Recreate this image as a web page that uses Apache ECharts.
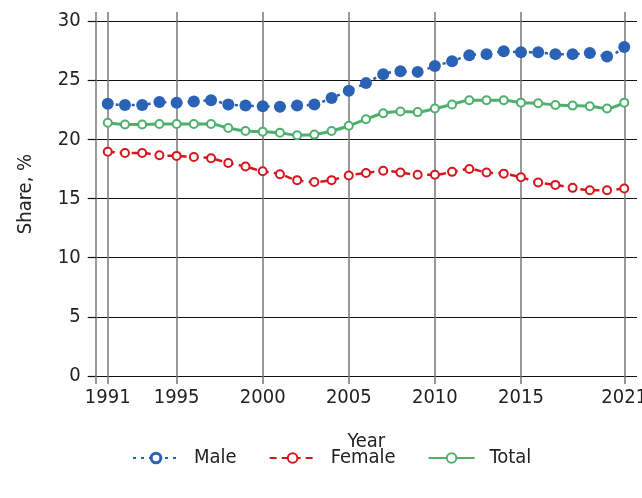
<!DOCTYPE html>
<html>
<head>
<meta charset="utf-8">
<script src="https://cdn.jsdelivr.net/npm/echarts@6/dist/echarts.min.js"></script>
<style>
  html, body { margin: 0; padding: 0; background: #fff; }
  #chart { width: 642px; height: 498px; }
</style>
</head>
<body>
<div id="chart"></div>
<script>
// Share by year, %
const years = [1991,1992,1993,1994,1995,1996,1997,1998,1999,2000,2001,2002,2003,2004,2005,2006,2007,2008,2009,2010,2011,2012,2013,2014,2015,2016,2017,2018,2019,2020,2021];
const male = [23.0,22.9,22.9,23.15,23.1,23.2,23.3,22.95,22.85,22.8,22.75,22.85,22.95,23.5,24.1,24.75,25.5,25.75,25.7,26.2,26.6,27.1,27.2,27.45,27.35,27.35,27.2,27.2,27.3,27.0,27.8];
const female = [18.95,18.85,18.85,18.65,18.6,18.5,18.4,18.0,17.7,17.3,17.05,16.55,16.4,16.55,16.95,17.15,17.35,17.2,17.0,17.0,17.25,17.5,17.2,17.1,16.8,16.35,16.15,15.9,15.7,15.7,15.85];
const total = [21.4,21.25,21.25,21.3,21.3,21.3,21.3,20.95,20.7,20.65,20.55,20.35,20.4,20.7,21.15,21.7,22.2,22.35,22.3,22.6,22.95,23.3,23.3,23.3,23.1,23.05,22.9,22.85,22.8,22.6,23.1];
const yearTicks = [1991, 1995, 2000, 2005, 2010, 2015, 2021];
const shareTicks = [0, 5, 10, 15, 20, 25, 30];

const X_MIN = 1990.3, X_MAX = 2021.74;
const FONT = '"DejaVu Sans Condensed", "Roboto", sans-serif';

const pairs = arr => years.map((y, i) => [y, arr[i]]);

const chart = echarts.init(document.getElementById('chart'), null, { renderer: 'canvas' });
chart.setOption({
  animation: false,
  textStyle: { fontFamily: FONT },
  grid: { left: 95.7, right: 5, top: 12, bottom: 122, containLabel: false, outerBoundsMode: 'none' },
  xAxis: {
    type: 'value',
    min: X_MIN,
    max: X_MAX,
    name: 'Year',
    nameLocation: 'middle',
    nameGap: 56,
    nameTextStyle: { fontSize: 20, color: '#222', fontFamily: FONT },
    axisLine: { show: false },
    axisTick: { show: true, length: 8, customValues: [X_MIN].concat(yearTicks), lineStyle: { color: '#777', width: 1.5 } },
    axisLabel: { customValues: yearTicks, fontSize: 20, color: '#222', margin: 12, fontFamily: FONT, formatter: v => String(v) },
    splitLine: { show: true, lineStyle: { color: '#777', width: 1.5 } }
  },
  yAxis: {
    type: 'value',
    min: 0,
    max: 30.76,
    name: 'Share, %',
    nameLocation: 'middle',
    nameGap: 60,
    nameRotate: 90,
    nameTextStyle: { fontSize: 20, color: '#222', fontFamily: FONT },
    axisLine: { show: false },
    axisTick: { show: true, length: 8, customValues: shareTicks, lineStyle: { color: '#111', width: 1.2 } },
    axisLabel: { customValues: shareTicks, fontSize: 20, color: '#222', margin: 15, fontFamily: FONT },
    splitLine: { show: true, lineStyle: { color: '#111', width: 1.2 } }
  },
  legend: {
    bottom: 25,
    left: 127,
    itemWidth: 46,
    itemHeight: 12,
    itemGap: 32,
    textStyle: { fontSize: 20, color: '#222', fontFamily: FONT, padding: [0, 0, 0, 10] },
    data: [
      { name: 'Male', itemStyle: { color: '#fff', borderColor: '#2a62b5', borderWidth: 3 } },
      { name: 'Female' },
      { name: 'Total' }
    ]
  },
  series: [
    {
      name: 'Male',
      type: 'line',
      data: pairs(male),
      smooth: 0.3,
      symbol: 'circle',
      symbolSize: 12,
      itemStyle: { color: '#2a62b5' },
      lineStyle: { color: '#2a62b5', width: 2.5, type: [3, 5] },
      z: 3
    },
    {
      name: 'Female',
      type: 'line',
      data: pairs(female),
      smooth: 0.3,
      symbol: 'emptyCircle',
      symbolSize: 8,
      itemStyle: { color: '#d4161e', borderColor: '#d4161e', borderWidth: 3.2 },
      lineStyle: { color: '#d4161e', width: 2.5, type: [7, 5] },
      z: 3
    },
    {
      name: 'Total',
      type: 'line',
      data: pairs(total),
      smooth: 0.3,
      symbol: 'emptyCircle',
      symbolSize: 8,
      itemStyle: { color: '#4fb06d', borderColor: '#4fb06d', borderWidth: 3.6 },
      lineStyle: { color: '#4fb06d', width: 3 },
      z: 3
    }
  ]
});
</script>
</body>
</html>
